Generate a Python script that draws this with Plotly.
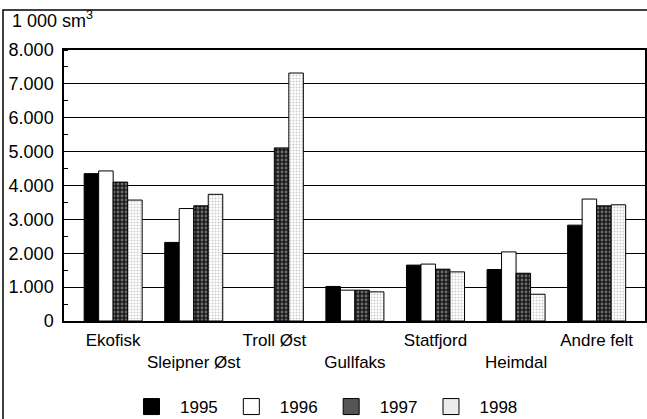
import plotly.graph_objects as go

categories = ["Ekofisk", "Sleipner Øst", "Troll Øst", "Gullfaks", "Statfjord", "Heimdal", "Andre felt"]
years = ["1995", "1996", "1997", "1998"]
v1995 = [4350, 2320, None, 1020, 1650, 1520, 2830]
v1996 = [4430, 3320, None, 910, 1680, 2040, 3600]
v1997 = [4100, 3400, 5110, 910, 1530, 1410, 3400]
v1998 = [3570, 3740, 7320, 860, 1450, 790, 3430]
yticks = [0, 1000, 2000, 3000, 4000, 5000, 6000, 7000, 8000]

series = [v1995, v1996, v1997, v1998]
styles = [
    dict(color="black", pattern=dict(shape="")),
    dict(color="white", pattern=dict(shape="")),
    dict(color="#1a1a1a", pattern=dict(shape=".", bgcolor="#1a1a1a", fgcolor="#bdbdbd", size=4, solidity=0.4)),
    dict(color="white", pattern=dict(shape=".", bgcolor="white", fgcolor="#9a9a9a", size=3, solidity=0.35)),
]
legend_colors = ["black", "white", "#555555", "#ececec"]

FONT = "Liberation Sans, Arial, Helvetica, sans-serif"
fig = go.Figure()
xs = list(range(len(categories)))
for yr, vals, st in zip(years, series, styles):
    fig.add_trace(go.Bar(
        x=xs, y=vals, name=yr, showlegend=False,
        marker=dict(color=st["color"], pattern=st["pattern"], line=dict(color="black", width=1)),
    ))
for yr, c in zip(years, legend_colors):
    fig.add_trace(go.Scatter(
        x=[None], y=[None], mode="markers", name=yr,
        marker=dict(symbol="square", size=22, color=c, line=dict(color="black", width=1)),
    ))

ticktext = [("<br>" + c) if i % 2 else c for i, c in enumerate(categories)]

fig.update_layout(
    width=647, height=419,
    margin=dict(l=64, r=2, t=50, b=98, autoexpand=False),
    paper_bgcolor="white", plot_bgcolor="white",
    font=dict(family=FONT, size=17, color="black"),
    separators=",.",
    barmode="group", bargap=0.28, bargroupgap=0,
    xaxis=dict(
        tickmode="array", tickvals=xs, ticktext=ticktext, tickangle=0,
        tickfont=dict(size=17), automargin=False, ticklabelstandoff=3,
        range=[-0.61, 6.6], showline=True, linecolor="black", linewidth=1.5,
        mirror=True, showgrid=False, ticks="", zeroline=False,
    ),
    yaxis=dict(
        range=[0, 8000], tickmode="array", tickvals=yticks, tickformat=",d",
        tickfont=dict(size=18), automargin=False,
        showgrid=True, gridcolor="black", gridwidth=1.2,
        showline=True, linecolor="black", linewidth=1.5, mirror=True,
        ticks="", ticklabelstandoff=5, zeroline=False,
        minor=dict(dtick=500, ticks="inside", ticklen=4, tickcolor="black", showgrid=False),
    ),
    legend=dict(
        orientation="h", x=(123 - 64) / 581, xanchor="left",
        yref="container", y=(419 - 407) / 419, yanchor="middle",
        itemsizing="trace", font=dict(size=17), itemwidth=47, traceorder="normal",
    ),
    annotations=[dict(
        text="1 000 sm<sup>3</sup>", xref="paper", yref="paper",
        x=(10 - 64) / 581, y=(321 - 20) / 271, xanchor="left", yanchor="middle",
        showarrow=False, font=dict(size=18),
    )],
    shapes=[dict(
        type="rect", xref="paper", yref="paper",
        x0=(3 - 64) / 581, x1=(650 - 64) / 581, y0=(321 - 425) / 271, y1=(321 - 10) / 271,
        line=dict(color="black", width=1.5), layer="below",
    )],
)

fig.write_html("out.html", config={"displayModeBar": False},
               post_script="document.body.style.margin='0';")
